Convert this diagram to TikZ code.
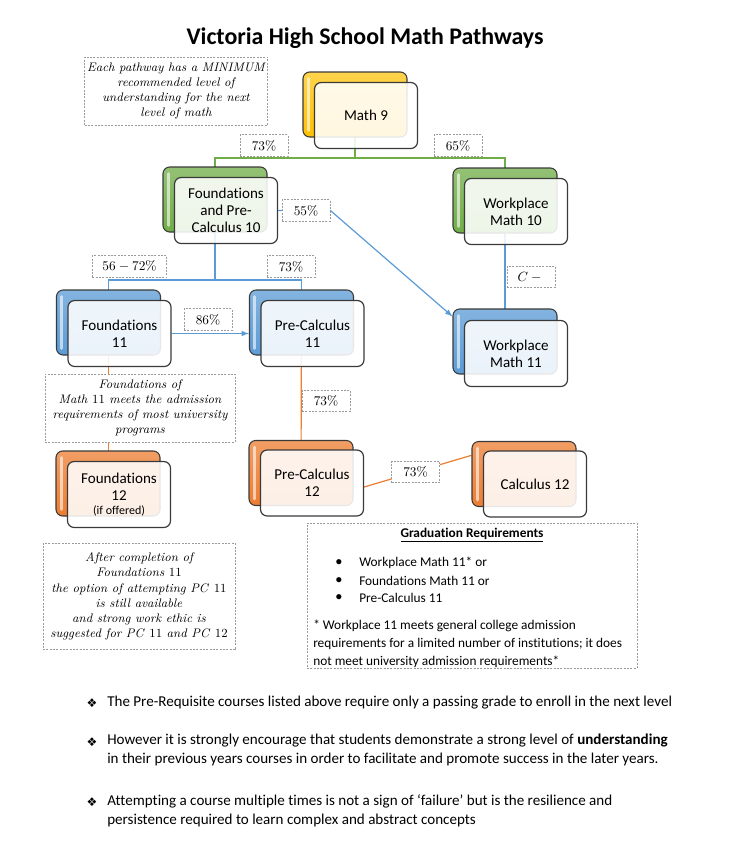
\documentclass[tikz,border=0pt]{standalone}
\usepackage{fontspec}
\usepackage{tikz}
\usetikzlibrary{backgrounds}
\newfontfamily\calibri[Ligatures=NoCommon]{Carlito}
\newfontfamily\symfont{DejaVu Sans}
\definecolor{mathyellow}{HTML}{FFC000}
\definecolor{mathgreen}{HTML}{70AD47}
\definecolor{mathblue}{HTML}{5B9BD5}
\definecolor{mathorange}{HTML}{ED7D31}
\definecolor{boxedge}{HTML}{3A3A3A}
\definecolor{dashgray}{HTML}{9A9A9A}

\begin{document}
\begin{tikzpicture}[x=0.75pt, y=-0.75pt]
    % Define styles
    \tikzstyle{back} = [rectangle, minimum width=78pt, minimum height=48.75pt, rounded corners=5pt, draw=boxedge, line width=0.8pt, path picture={\draw[white, opacity=0.6, line width=2.4pt, line cap=round] ([shift={(4pt,-5pt)}]path picture bounding box.north west) -- ([shift={(4pt,5pt)}]path picture bounding box.south west);}]
    \tikzstyle{yellowback} = [back, top color=mathyellow!70!white, bottom color=mathyellow]
    \tikzstyle{greenback} = [back, top color=mathgreen!75!white, bottom color=mathgreen]
    \tikzstyle{blueback} = [back, top color=mathblue!75!white, bottom color=mathblue]
    \tikzstyle{orangeback} = [back, top color=mathorange!75!white, bottom color=mathorange]
    \tikzstyle{front} = [rectangle, minimum width=77.25pt, minimum height=49.5pt, rounded corners=5pt, draw=boxedge, line width=0.9pt, fill=white, fill opacity=0.88, text opacity=1, align=center, font=\calibri\fontsize{11.3}{12.8}\selectfont]
    \tikzstyle{pct} = [rectangle, draw=dashgray, dash pattern=on 1.5pt off 1pt, line width=0.6pt, fill=white, minimum width=36pt, minimum height=16pt, inner sep=1pt, font=\fontsize{10}{12}\selectfont]
    \tikzstyle{note} = [rectangle, draw=dashgray, dash pattern=on 1.5pt off 1pt, line width=0.6pt, fill=white, align=center, inner sep=2pt, font=\itshape\fontsize{9.3}{11.4}\selectfont]
    \tikzstyle{body} = [inner sep=0pt, align=left, font=\calibri\fontsize{10}{13.5}\selectfont]
    \tikzstyle{remark} = [inner sep=0pt, align=left, font=\calibri\fontsize{11.3}{14.25}\selectfont]
    \tikzstyle{greenline} = [draw=mathgreen, line width=0.9pt]
    \tikzstyle{blueline} = [draw=mathblue, line width=0.9pt]
    \tikzstyle{orangeline} = [draw=mathorange, line width=0.9pt]
    \tikzstyle{arrow} = [->, >=latex]

    \useasboundingbox (0,0) rectangle (730,850);

    % Title
    \node (title) at (365,38) {\calibri\bfseries\fontsize{17.9}{20}\selectfont Victoria High School Math Pathways};

    % Course boxes
    \node (math_9_back) [yellowback] at (355,104.5) {};
    \node (math_9) [front] at ([shift={(11,11)}]math_9_back) {Math 9};
    \node (found_10_back) [greenback] at (215,199.5) {};
    \node (found_10) [front] at ([shift={(11,11)}]found_10_back) {Foundations\\and Pre-\\Calculus 10};
    \node (work_10_back) [greenback] at (505,200.5) {};
    \node (work_10) [front] at ([shift={(11,11)}]work_10_back) {Workplace\\Math 10};
    \node (work_11_back) [blueback] at (505,341.5) {};
    \node (work_11) [front] at ([shift={(11,12)}]work_11_back) {Workplace\\Math 11};
    \node (found_11_back) [blueback] at (108.5,322.5) {};
    \node (found_11) [front] at ([shift={(11,11)}]found_11_back) {Foundations\\11};
    \node (precalc_11_back) [blueback] at (301.5,322.5) {};
    \node (precalc_11) [front] at ([shift={(11,11)}]precalc_11_back) {Pre-Calculus\\11};
    \node (found_12_back) [orangeback] at (108,483.5) {};
    \node (found_12) [front] at ([shift={(11,11)}]found_12_back) {Foundations\\12\\[-2pt]{\fontsize{9}{10}\selectfont (if offered)}};
    \node (precalc_12_back) [orangeback] at (301,473) {};
    \node (precalc_12) [front] at ([shift={(11,10)}]precalc_12_back) {Pre-Calculus\\12};
    \node (calc_12_back) [orangeback] at (524,474) {};
    \node (calc_12) [front] at ([shift={(11,10)}]calc_12_back) {Calculus 12};

    % Percent labels
    \node (pct_f10) [pct] at (264,145.5) {73\%};
    \node (pct_w10) [pct] at (458,145.5) {65\%};
    \node (pct_w11) [pct] at (306,210.5) {55\%};
    \node (pct_wc) [pct] at (531,277) {$C -{}$};
    \node (pct_f11) [pct, minimum width=56pt] at (129.5,266.5) {$56-72\%$};
    \node (pct_pc11) [pct] at (291,266.5) {73\%};
    \node (pct_switch) [pct] at (208,319.5) {86\%};
    \node (pct_pc12) [pct] at (326,401) {73\%};
    \node (pct_calc) [pct] at (415.5,472) {73\%};

    % Notes
    \node (note_min) [note, minimum width=135pt, minimum height=51pt] at (176,91) {Each pathway has a MINIMUM\\recommended level of\\understanding for the next\\level of math};
    \node (note_univ) [note, minimum width=142.5pt, minimum height=51pt] at (140,408) {Foundations of\\Math \textup{11} meets the admission\\requirements of most university\\programs};
    \node (note_pc) [note, minimum width=144pt, minimum height=80pt] at (139,596.5) {After completion of\\Foundations \textup{11}\\the option of attempting PC \textup{11}\\is still available\\and strong work ethic is\\suggested for PC \textup{11} and PC \textup{12}};

    % Graduation requirements
    \node (grad_box) [note, minimum width=247.5pt, minimum height=108.75pt] at (472,595.5) {};
    \node (grad_title) [body] at (472,535) {\bfseries\underline{Graduation Requirements}};
    \node (grad_dot_1) [body] at (339,563) {$\bullet$};
    \node (grad_dot_2) [body] at (339,581) {$\bullet$};
    \node (grad_dot_3) [body] at (339,598) {$\bullet$};
    \node (grad_item_1) [body, anchor=west] at (359,563) {Workplace Math 11* or};
    \node (grad_item_2) [body, anchor=west] at (359,581) {Foundations Math 11 or};
    \node (grad_item_3) [body, anchor=west] at (359,598) {Pre-Calculus 11};
    \node (grad_note) [body, anchor=north west] at (313,620) {* Workplace 11 meets general college admission\\requirements for a limited number of institutions; it does\\not meet university admission requirements*};

    % Closing remarks
    \node (tip_1_mark) [remark] at (92,703) {\symfont\fontsize{9}{10}\selectfont ❖};
    \node (tip_1) [remark, anchor=west] at (107,703) {The Pre-Requisite courses listed above require only a passing grade to enroll in the next level};
    \node (tip_2_mark) [remark] at (92,742) {\symfont\fontsize{9}{10}\selectfont ❖};
    \node (tip_2) [remark, anchor=north west] at (107,734) {However it is strongly encourage that students demonstrate a strong level of \textbf{understanding}\\in their previous years courses in order to facilitate and promote success in the later years.};
    \node (tip_3_mark) [remark] at (92,802) {\symfont\fontsize{9}{10}\selectfont ❖};
    \node (tip_3) [remark, anchor=north west] at (107,794) {Attempting a course multiple times is not a sign of ‘failure’ but is the resilience and\\persistence required to learn complex and abstract concepts};

    % Connectors
    \begin{scope}[on background layer]
        \coordinate (split_9) at (355,158);
        \coordinate (split_10) at (215,280);
        \draw [greenline] (math_9_back.center) -- (split_9);
        \draw [greenline] (found_10_back.center) |- (split_9) -| (work_10_back.center);
        \draw [blueline] (work_10_back.center) -- (work_11_back.center);
        \draw [blueline] (found_10_back.center) -- (split_10);
        \draw [blueline] (found_11_back.center) |- (split_10) -| (precalc_11_back.center);
        \draw [blueline, arrow] (found_10.east) -- (pct_w11.east) -- ([yshift=-6pt]work_11_back.north west);
        \draw [blueline, arrow] (found_11.east) -- (found_11.east -| precalc_11_back.west);
        \draw [orangeline] (found_11_back.center) -- (found_11_back.center |- found_12_back.center);
        \draw [orangeline] (precalc_11_back.center) -- (precalc_12_back.center);
        \draw [orangeline] ([yshift=-3pt]precalc_12.east) -- ([yshift=14pt]calc_12_back.west);
    \end{scope}
\end{tikzpicture}
\end{document}
